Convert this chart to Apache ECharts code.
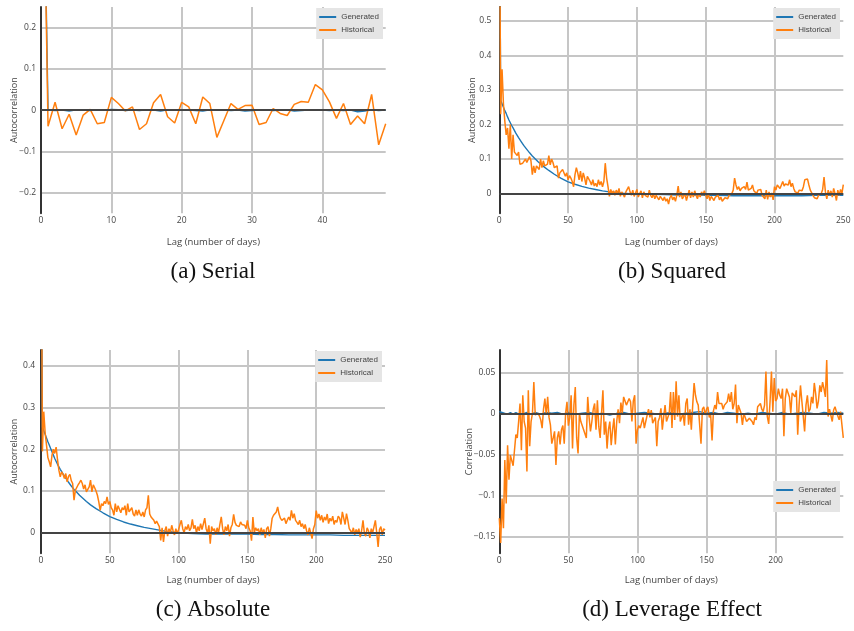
<!DOCTYPE html>
<html><head><meta charset="utf-8">
<script src="https://cdn.jsdelivr.net/npm/echarts@6/dist/echarts.min.js"></script>
<style>html,body{margin:0;padding:0;background:#fff}#c{width:854px;height:631px}</style>
</head><body><div id="c"></div>
<script>
// ---------- (a) Serial: lag 0..49 ----------
const serialHist = [1.0, -0.039, 0.019, -0.045, -0.010, -0.060, -0.012, 0.002, -0.033, -0.030,
 0.031, 0.016, -0.002, 0.008, -0.047, -0.033, 0.018, 0.038, -0.016, -0.031,
 0.019, 0.008, -0.033, 0.032, 0.016, -0.066, -0.025, 0.016, 0.002, 0.011,
 0.012, -0.035, -0.030, 0.004, -0.008, -0.013, 0.014, 0.021, 0.019, 0.062,
 0.049, 0.020, -0.020, 0.016, -0.035, -0.014, -0.033, 0.038, -0.084, -0.033];
const serialGen = [1.0, 0.001, -0.001, 0.0, -0.002, 0.001, 0.0, -0.001, 0.001, 0.0,
 0.002, 0.001, -0.001, 0.0, -0.001, 0.001, 0.0, -0.002, 0.001, 0.0,
 0.001, 0.0, -0.001, -0.002, 0.001, 0.0, 0.001, -0.001, 0.0, -0.002,
 -0.001, 0.001, 0.0, -0.001, 0.0, 0.001, -0.002, -0.001, 0.0, 0.001,
 0.0, -0.001, 0.0, -0.001, 0.0, -0.004, -0.002, 0.001, -0.001, 0.0];

// ---------- (b) Squared: lag 0..250 ----------
const squaredHist = [1.0, 0.23, 0.36, 0.26, 0.21, 0.17, 0.19, 0.13, 0.20, 0.10,
 0.17, 0.12, 0.12, 0.11, 0.12, 0.085, 0.09, 0.088, 0.083, 0.10,
 0.09, 0.088, 0.107, 0.095, 0.055, 0.08, 0.06, 0.08, 0.075, 0.07,
 0.10, 0.075, 0.095, 0.08, 0.085, 0.085, 0.11, 0.083, 0.10, 0.09,
 0.075, 0.07, 0.08, 0.045, 0.06, 0.055, 0.07, 0.065, 0.05, 0.06,
 0.04, 0.052, 0.045, 0.035, 0.02, 0.055, 0.075, 0.06, 0.04, 0.065,
 0.035, 0.06, 0.045, 0.025, 0.05, 0.045, 0.035, 0.025, 0.04, 0.022,
 0.03, 0.02, 0.04, 0.025, 0.035, 0.02, 0.035, 0.088, 0.045, 0.02,
 -0.008, 0.012, 0.0, 0.008, -0.005, 0.01, 0.0, 0.015, -0.008, 0.005,
 0.01, -0.01, 0.005, 0.0, 0.02, 0.005, -0.005, 0.01, -0.008, 0.002,
 0.012, -0.01, 0.0, 0.008, -0.012, 0.005, -0.005, 0.0, -0.01, 0.01,
 -0.005, -0.012, 0.0, -0.015, -0.005, -0.01, -0.018, -0.008, -0.012, -0.02,
 -0.01, -0.022, -0.015, -0.03, -0.012, -0.005, -0.018, -0.01, -0.022, -0.005,
 0.022, -0.01, 0.005, -0.015, -0.008, 0.0, -0.02, -0.005, 0.01, -0.012,
 0.005, -0.01, 0.008, -0.005, -0.015, 0.0, -0.01, 0.005, -0.005, 0.008,
 -0.005, -0.015, 0.0, -0.02, -0.008, -0.012, -0.02, -0.01, -0.015, -0.005,
 -0.018, -0.01, -0.022, -0.025, -0.012, -0.008, -0.015, -0.005, -0.01, 0.0,
 0.01, 0.045, 0.025, 0.012, 0.02, 0.008, 0.015, 0.01, 0.02, 0.012,
 0.033, 0.01, 0.005, 0.015, 0.025, 0.008, 0.012, 0.0, 0.01, 0.005,
 0.012, -0.005, 0.0, -0.015, 0.01, -0.017, 0.005, -0.01, 0.002, -0.018,
 0.02, 0.01, 0.025, 0.03, 0.015, 0.02, 0.035, 0.022, 0.028, 0.03,
 0.025, 0.04, 0.02, 0.03, 0.015, 0.005, 0.008, 0.002, 0.01, 0.005,
 0.008, 0.02, 0.04, 0.035, 0.042, 0.025, 0.01, 0.015, -0.005, -0.012,
 -0.008, -0.015, -0.005, -0.01, 0.0, 0.012, 0.048, 0.005, -0.015, 0.01,
 -0.005, 0.008, -0.01, 0.015, 0.0, -0.02, 0.01, -0.005, 0.012, 0.0,
 0.026];
const squaredGen = [[0,1],[1,0.27],[2,0.26],[3,0.25],[4,0.24],[5,0.232],[6,0.222],[7,0.213],[8,0.205],[9,0.197],
 [10,0.19],[12,0.175],[14,0.162],[16,0.15],[18,0.138],[20,0.128],[22,0.118],[24,0.109],[26,0.101],[28,0.093],
 [30,0.086],[33,0.076],[36,0.067],[40,0.056],[45,0.044],[50,0.034],[55,0.027],[60,0.021],[65,0.016],[70,0.012],
 [75,0.008],[80,0.005],[85,0.003],[90,0.001],[95,0.0],[100,-0.001],[110,-0.002],[120,-0.003],[130,-0.004],[140,-0.004],
 [150,-0.005],[160,-0.005],[170,-0.006],[180,-0.006],[190,-0.006],[200,-0.006],[210,-0.006],[220,-0.006],[230,-0.005],[240,-0.005],[250,-0.005]];

// ---------- (c) Absolute: lag 0..250 ----------
const absoluteHist = [1.0, 0.195, 0.29, 0.24, 0.21, 0.18, 0.17, 0.158, 0.186, 0.20,
 0.19, 0.205, 0.175, 0.15, 0.134, 0.146, 0.14, 0.13, 0.142, 0.122,
 0.135, 0.14, 0.125, 0.118, 0.078, 0.102, 0.098, 0.115, 0.12, 0.126,
 0.118, 0.105, 0.115, 0.098, 0.104, 0.11, 0.126, 0.098, 0.115, 0.108,
 0.1, 0.09, 0.074, 0.054, 0.07, 0.065, 0.075, 0.07, 0.086, 0.068,
 0.075, 0.06, 0.055, 0.042, 0.07, 0.05, 0.065, 0.068, 0.048, 0.06,
 0.055, 0.065, 0.042, 0.07, 0.05, 0.048, 0.06, 0.045, 0.04, 0.055,
 0.042, 0.055, 0.045, 0.04, 0.05, 0.038, 0.055, 0.06, 0.09, 0.045,
 0.038, 0.034, 0.03, 0.022, 0.028, 0.03, 0.015, -0.018, 0.012, -0.022,
 0.005, 0.015, -0.008, 0.01, 0.0, 0.018, 0.005, -0.005, 0.01, -0.002,
 0.008, 0.02, 0.03, 0.01, 0.0, 0.015, 0.008, 0.02, 0.005, 0.012,
 0.032, 0.01, 0.018, 0.0, 0.015, 0.005, 0.022, 0.008, 0.012, 0.035,
 0.01, 0.0, 0.018, -0.026, 0.015, 0.005, 0.01, -0.005, 0.012, 0.0,
 0.02, 0.038, 0.01, -0.005, 0.015, 0.005, 0.02, -0.008, 0.012, 0.02,
 0.044, 0.025, 0.018, 0.022, 0.015, 0.026, 0.02, 0.024, 0.018, 0.01,
 0.03, 0.012, 0.005, -0.019, 0.038, 0.0, 0.012, 0.005, 0.01, -0.005,
 0.012, 0.0, 0.008, -0.012, 0.01, 0.015, -0.008, 0.01, 0.035, 0.042,
 0.04, 0.05, 0.062, 0.045, 0.035, 0.03, 0.028, 0.035, 0.022, 0.03,
 0.038, 0.03, 0.054, 0.035, 0.046, 0.03, 0.025, 0.02, 0.03, 0.015,
 0.022, 0.01, 0.02, 0.005, -0.005, 0.012, 0.0, -0.014, 0.01, 0.02,
 0.053, 0.035, 0.045, 0.03, 0.042, 0.025, 0.038, 0.03, 0.045, 0.022,
 0.035, 0.028, 0.04, 0.02, 0.03, 0.025, 0.04, 0.035, 0.02, 0.05,
 0.035, 0.02, 0.046, 0.03, 0.01, 0.005, 0.0, 0.012, -0.005, 0.008,
 0.0, 0.01, -0.01, 0.005, 0.03, 0.0, -0.008, 0.012, 0.005, -0.012,
 0.01, 0.0, 0.015, 0.03, 0.0, -0.034, 0.008, 0.015, -0.005, 0.01,
 0.006];
const absoluteGen = [[0,1],[1,0.254],[2,0.245],[3,0.236],[4,0.227],[5,0.218],[6,0.21],[7,0.202],[8,0.194],[9,0.186],
 [10,0.178],[12,0.164],[14,0.152],[16,0.141],[18,0.131],[20,0.121],[22,0.112],[24,0.104],[26,0.097],[28,0.09],
 [30,0.084],[33,0.075],[36,0.067],[40,0.058],[45,0.048],[50,0.039],[55,0.032],[60,0.026],[65,0.021],[70,0.017],
 [75,0.013],[80,0.01],[85,0.007],[90,0.004],[95,0.002],[100,0.0],[110,-0.002],[120,-0.003],[130,-0.003],[140,-0.003],
 [150,-0.003],[160,-0.004],[170,-0.004],[180,-0.005],[190,-0.005],[200,-0.005],[210,-0.005],[220,-0.006],[230,-0.006],[240,-0.006],[250,-0.006]];

// ---------- (d) Leverage Effect: lag 0..249 ----------
const leverageHist = [-0.128, -0.158, -0.104, -0.14, -0.057, -0.11, -0.039, -0.081, -0.051, -0.053,
 -0.064, -0.045, -0.026, -0.03, -0.01, 0.012, -0.045, 0.022, -0.01, -0.018,
 -0.071, 0.028, -0.04, -0.01, 0.0, 0.038, -0.002, -0.004, 0.0, -0.003,
 -0.008, -0.018, 0.005, 0.018, -0.002, 0.02, -0.005, -0.014, -0.037, -0.03,
 -0.022, -0.063, -0.03, -0.022, -0.038, -0.02, -0.015, -0.037, 0.0, 0.014,
 -0.015, -0.005, 0.022, -0.043, 0.01, 0.032, -0.03, -0.049, 0.0, -0.01,
 -0.015, -0.014, -0.025, -0.03, 0.02, -0.005, -0.022, -0.01, 0.005, 0.012,
 -0.02, 0.016, -0.016, -0.03, 0.0, 0.028, -0.026, -0.01, -0.043, -0.02,
 -0.01, -0.039, -0.02, -0.006, -0.038, -0.01, 0.005, -0.012, 0.013, 0.0,
 0.02, 0.015, 0.01, 0.01, 0.018, 0.014, -0.01, 0.015, 0.022, -0.037,
 -0.02, -0.015, -0.018, -0.016, -0.005, -0.018, -0.01, -0.01, 0.005, -0.005,
 0.004, -0.012, -0.014, -0.005, -0.04, -0.01, -0.005, 0.006, -0.02, -0.004,
 0.01, -0.01, -0.012, 0.0, 0.026, -0.018, 0.026, -0.008, 0.039, -0.004,
 0.022, -0.01, -0.005, 0.0, -0.015, 0.012, 0.018, -0.014, 0.005, -0.02,
 0.01, 0.037, 0.022, 0.014, 0.01, 0.01, -0.037, 0.005, 0.008, -0.002,
 0.005, 0.008, -0.005, -0.002, -0.033, 0.003, 0.01, 0.005, 0.026, 0.012,
 0.01, 0.012, 0.005, 0.01, 0.01, 0.014, 0.024, 0.014, 0.026, 0.005,
 0.012, 0.035, -0.012, 0.01, 0.012, 0.0, -0.014, 0.0, -0.005, -0.01,
 -0.008, -0.006, -0.007, -0.01, -0.014, -0.005, -0.008, 0.008, 0.01, 0.012,
 0.005, 0.002, 0.01, 0.051, -0.004, -0.013, 0.015, 0.051, 0.002, 0.043,
 0.015, 0.018, 0.03, 0.022, 0.018, 0.03, -0.028, 0.018, 0.03, 0.032,
 0.02, 0.0, 0.025, 0.026, 0.02, 0.028, -0.026, 0.01, 0.034, 0.015,
 0.014, -0.022, 0.01, 0.022, 0.002, 0.005, 0.02, 0.012, 0.037, 0.024,
 0.006, 0.015, 0.034, 0.026, 0.038, 0.03, 0.02, 0.065, -0.004, 0.005,
 0.006, -0.01, 0.004, 0.008, 0.002, 0.0, -0.008, 0.002, 0.004, -0.03];
const leverageGen = [[0,0.002],[1,0.003],[2,0.001],[3,0.003],[4,0.0],[5,0.002],[6,-0.001],[8,0.001],[10,-0.001],[12,0.001],
 [15,-0.002],[18,0.0],[20,0.001],[23,-0.001],[26,0.001],[30,-0.001],[34,0.001],[38,0.0],[42,0.001],[46,-0.001],
 [50,0.001],[55,-0.001],[60,0.0],[65,0.001],[70,-0.001],[75,0.0],[80,-0.002],[85,0.0],[90,0.001],[95,-0.001],
 [100,0.0],[105,0.001],[110,0.0],[115,-0.001],[120,0.0],[125,0.001],[130,-0.001],[135,0.0],[140,0.001],[145,0.002],
 [150,0.0],[155,0.001],[160,-0.001],[165,0.001],[170,0.0],[175,-0.001],[180,0.0],[185,-0.001],[190,0.001],[195,0.0],
 [200,-0.001],[205,0.001],[210,-0.001],[215,0.0],[220,0.001],[225,0.0],[230,-0.001],[235,0.001],[240,0.0],[245,0.001],[249,0.0]];

const seriesNames = ['Generated', 'Historical'];
const captions = ['(a) Serial', '(b) Squared', '(c) Absolute', '(d) Leverage Effect'];
const xAxisTitle = 'Lag (number of days)';
const yAxisTitles = ['Autocorrelation', 'Autocorrelation', 'Autocorrelation', 'Correlation'];

// ---------- layout ----------
const panels = [
  {grid:{left:41, top:7, width:344.7, height:206.3}, xmax:49, ymin:-0.25, ymax:0.25, showMaxX:false,
   hist: serialHist.map((v,i)=>[i,v]), gen: serialGen.map((v,i)=>[i,v]),
   legend:{right:471, top:8}, yLabelMargin:5, yNameGap:22, xNameGap:24},
  {grid:{left:499.3, top:7, width:344, height:206.3}, xmax:250, ymin:-0.057, ymax:0.54, showMaxX:true,
   hist: squaredHist.map((v,i)=>[i,v]), gen: squaredGen,
   legend:{right:14, top:8}, yLabelMargin:8, yNameGap:22, xNameGap:24},
  {grid:{left:41, top:350, width:344, height:203.3}, xmax:250, ymin:-0.049, ymax:0.4376, showMaxX:true,
   hist: absoluteHist.map((v,i)=>[i,v]), gen: absoluteGen,
   legend:{right:472, top:351}, yLabelMargin:6, yNameGap:22, xNameGap:22},
  {grid:{left:499.3, top:350, width:344, height:203.3}, xmax:249, ymin:-0.1707, ymax:0.0772, showMaxX:false,
   hist: leverageHist.map((v,i)=>[i,v]), gen: leverageGen,
   legend:{right:14, top:481}, yLabelMargin:4, yNameGap:25, xNameGap:22}
];
const captionPos = [[213,272],[672,272],[213,610],[672,610]];

const FONT = 'Open Sans';
const TXT = '#444';
const GRIDC = '#c6c6c6';
function fmt(v){
  if (Math.abs(v) < 1e-9) return '0';
  const s = String(+Math.abs(v).toFixed(4));
  return v < 0 ? '\u2212' + s : s;
}

const option = {animation:false, backgroundColor:'#fff', grid:[], xAxis:[], yAxis:[], series:[], legend:[], graphic:[]};
panels.forEach((p, k) => {
  option.grid.push(Object.assign({containLabel:false}, p.grid));
  option.xAxis.push({type:'value', gridIndex:k, min:0, max:p.xmax,
    name:xAxisTitle, nameLocation:'middle', nameGap:p.xNameGap, nameMoveOverlap:false,
    nameTextStyle:{fontFamily:FONT, fontSize:9.5, color:TXT},
    axisLine:{show:false}, axisTick:{show:false},
    axisLabel:{fontFamily:FONT, fontSize:8.5, color:TXT, margin:3, showMinLabel:true, showMaxLabel:p.showMaxX, formatter:fmt},
    splitLine:{show:true, showMinLine:false, showMaxLine:false, lineStyle:{color:GRIDC, width:2}}});
  option.yAxis.push({type:'value', gridIndex:k, min:p.ymin, max:p.ymax,
    name:yAxisTitles[k], nameLocation:'middle', nameGap:p.yNameGap, nameMoveOverlap:false,
    nameTextStyle:{fontFamily:FONT, fontSize:9, color:TXT},
    axisLine:{show:true, onZero:false, lineStyle:{color:'#333', width:2}}, axisTick:{show:false},
    axisLabel:{fontFamily:FONT, fontSize:8.5, color:TXT, margin:p.yLabelMargin, showMinLabel:false, showMaxLabel:false, formatter:fmt},
    splitLine:{show:true, showMinLine:false, showMaxLine:false, lineStyle:{color:GRIDC, width:2}}});
  // zero line (below traces)
  option.series.push({type:'line', name:'zero', xAxisIndex:k, yAxisIndex:k, data:[], z:1, silent:true,
    markLine:{silent:true, symbol:['none','none'], label:{show:false}, animation:false,
      lineStyle:{color:'#444', width:2, type:'solid'}, emphasis:{disabled:true}, data:[{yAxis:0}]}});
  option.series.push({type:'line', name:seriesNames[0], xAxisIndex:k, yAxisIndex:k, data:p.gen, z:3,
    showSymbol:false, symbol:'none', clip:true, lineStyle:{color:'#1f77b4', width:1.4}, itemStyle:{color:'#1f77b4'},
    emphasis:{disabled:true}});
  option.series.push({type:'line', name:seriesNames[1], xAxisIndex:k, yAxisIndex:k, data:p.hist, z:4,
    showSymbol:false, symbol:'none', clip:true, lineStyle:{color:'#ff7f0e', width:1.5}, itemStyle:{color:'#ff7f0e'},
    emphasis:{disabled:true}});
  option.legend.push(Object.assign({orient:'vertical', data:seriesNames,
    backgroundColor:'#e5e5e5', padding:[5,4,5,3], itemGap:5, itemWidth:17, itemHeight:2, icon:'rect',
    selectedMode:false, textStyle:{fontFamily:'Liberation Sans', fontSize:8, color:TXT}}, p.legend));
  option.graphic.push({type:'text', x:captionPos[k][0], y:captionPos[k][1],
    style:{text:captions[k], fontFamily:'Liberation Serif', fontSize:23, fill:'#111', align:'center', verticalAlign:'middle'}});
});

const chart = echarts.init(document.getElementById('c'), null, {renderer:'canvas'});
chart.setOption(option);
</script>
</body></html>
